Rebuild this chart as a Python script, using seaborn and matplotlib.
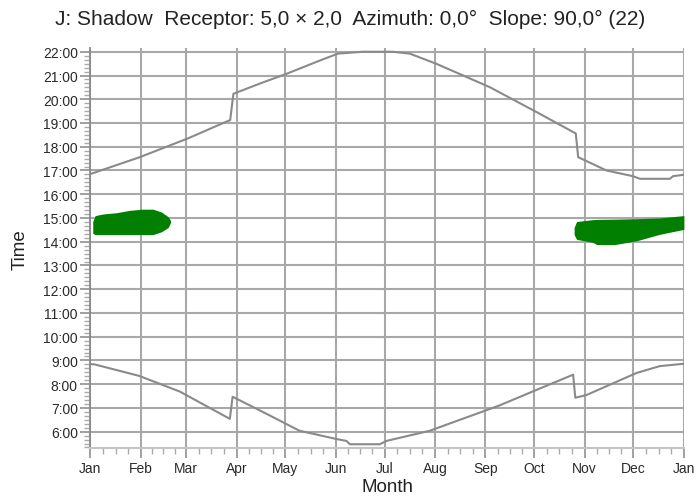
import numpy as np
import pandas as pd
import seaborn as sns
import matplotlib.pyplot as plt
from matplotlib.ticker import FixedLocator, MultipleLocator

# %% values (x = day of year, y = hour of day)
month_names = ['Jan', 'Feb', 'Mar', 'Apr', 'May', 'Jun', 'Jul', 'Aug', 'Sep', 'Oct', 'Nov', 'Dec', 'Jan']
month_starts = [0, 31, 59, 90, 120, 151, 181, 212, 243, 273, 304, 334, 365]
hour_ticks = list(range(6, 23))

sunset_days = [0, 30.4, 60, 83.8, 86, 88, 105, 120.6, 140, 152.2, 159.6, 167.6, 186, 196.5,
               212.9, 245.6, 274.4, 296.9, 298.5, 300, 317.4, 333.6, 338, 356.4, 358.3, 365]
sunset_hours = [16.85, 17.56, 18.35, 19.06, 19.12, 20.23, 20.68, 21.07, 21.6, 21.92, 21.96, 22.0, 22.0, 21.92,
                21.49, 20.51, 19.46, 18.62, 18.56, 17.56, 17.0, 16.76, 16.65, 16.65, 16.76, 16.82]

sunrise_days = [0, 2.8, 30, 55, 85.8, 87.5, 104.1, 128.6, 151.4, 157.5, 159.6, 178, 182.1,
                208.8, 251.8, 274.4, 296.9, 298.2, 305, 335.8, 350.1, 365]
sunrise_hours = [8.85, 8.83, 8.35, 7.69, 6.54, 7.47, 6.90, 6.04, 5.69, 5.61, 5.47, 5.47, 5.61,
                 6.04, 7.11, 7.76, 8.40, 7.43, 7.54, 8.47, 8.76, 8.86]

# shadow periods
left_days = [1.5, 3, 8, 16, 24, 32, 38.6, 43.8, 47.9, 49.3]
left_top = [14.85, 15.1, 15.17, 15.22, 15.32, 15.37, 15.37, 15.25, 15.05, 14.9]
left_bottom = [14.35, 14.3, 14.3, 14.3, 14.3, 14.3, 14.3, 14.42, 14.6, 14.8]

right_days = [297.5, 299, 309, 311.5, 322.5, 336, 350, 365]
right_top = [14.6, 14.85, 14.93, 14.94, 14.95, 14.97, 15.0, 15.1]
right_bottom = [14.3, 14.1, 13.97, 13.88, 13.88, 14.04, 14.31, 14.52]

title = 'J: Shadow  Receptor: 5,0 \u00d7 2,0  Azimuth: 0,0\u00b0  Slope: 90,0\u00b0 (22)'

# %% plot
sns.set_style('white')
plt.rcParams['font.family'] = ['Liberation Sans', 'DejaVu Sans']

fig = plt.figure(figsize=(7, 5.02), dpi=100)
ax = fig.add_axes([0.129, 0.105, 0.848, 0.797])

grid_col = '#a8a8a8'
line_col = '#8a8a8a'
green = '#007f00'

ax.fill_between(left_days, left_bottom, left_top, color=green, lw=0, zorder=3)
ax.fill_between(right_days, right_bottom, right_top, color=green, lw=0, zorder=3)

sunset = pd.DataFrame({'day': sunset_days, 'hour': sunset_hours})
sunrise = pd.DataFrame({'day': sunrise_days, 'hour': sunrise_hours})
sns.lineplot(data=sunset, x='day', y='hour', color=line_col, lw=1.5, ax=ax, zorder=4)
sns.lineplot(data=sunrise, x='day', y='hour', color=line_col, lw=1.5, ax=ax, zorder=4)

ax.set_xlim(0, 365)
ax.set_ylim(5.3, 22.15)

ax.xaxis.set_major_locator(FixedLocator(month_starts))
ax.set_xticklabels(month_names)
minor_x = []
for a, b in zip(month_starts[:-1], month_starts[1:]):
    minor_x += [a + (b - a) * k / 4 for k in (1, 2, 3)]
ax.xaxis.set_minor_locator(FixedLocator(minor_x))

ax.yaxis.set_major_locator(FixedLocator(hour_ticks))
ax.set_yticklabels([f'{h}:00' for h in hour_ticks])
ax.yaxis.set_minor_locator(MultipleLocator(1 / 6))

ax.grid(True, which='major', color=grid_col, lw=1.5, zorder=1)
ax.set_axisbelow(True)

for side in ['top', 'right']:
    ax.spines[side].set_visible(False)
ax.spines['left'].set_color('#8a8a8a')
ax.spines['left'].set_linewidth(1.3)
ax.spines['bottom'].set_color('#c4c4c4')
ax.spines['bottom'].set_linewidth(1.5)

ax.tick_params(axis='both', which='major', direction='out', length=7, width=1.3,
               color='#999999', labelsize=10, labelcolor='#2a2a2a', pad=2,
               bottom=True, left=True)
ax.tick_params(axis='both', which='minor', direction='out', length=4, width=1,
               color='#aaaaaa', bottom=True, left=True)

ax.set_xlabel('Month', fontsize=13.5, color='#222222', labelpad=2)
ax.set_ylabel('Time', fontsize=13.5, color='#222222', labelpad=10)
fig.text(0.5, 0.962, title, ha='center', va='center', fontsize=15, color='#222222')

fig.savefig('out.png', dpi=100)
